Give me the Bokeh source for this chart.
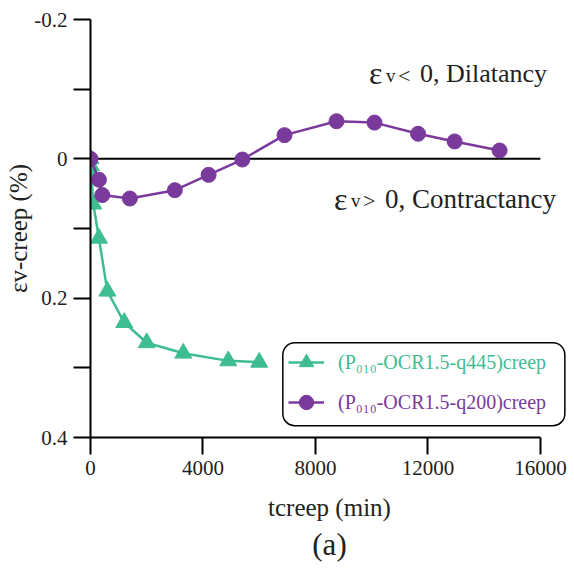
from bokeh.plotting import figure
from bokeh.models import (Range1d, FixedTicker, Legend, LegendItem, BoxAnnotation,
                          Label, Title)
from bokeh.embed import file_html
from bokeh.resources import INLINE

# ---- data ----
green_t = [0, 10, 30, 100, 300, 600, 1200, 2000, 3300, 4900, 6000]
green_v = [0.0, 0.01, 0.021, 0.065, 0.114, 0.19, 0.235, 0.264, 0.279, 0.29, 0.292]
green_label = "(P\u2080\u2081\u2080-OCR1.5-q445)creep"

purple_t = [0, 300, 420, 1400, 3000, 4200, 5400, 6900, 8750, 10100, 11650, 12950, 14550]
purple_v = [0.0, 0.03, 0.052, 0.057, 0.045, 0.023, 0.001, -0.034, -0.054, -0.052, -0.036, -0.025, -0.012]
purple_label = "(P\u2080\u2081\u2080-OCR1.5-q200)creep"

x_ticks = [0, 4000, 8000, 12000, 16000]
y_ticks = [-0.2, 0, 0.2, 0.4]
y_minor = [-0.1, 0.1, 0.3]
y_tick_labels = {-0.2: "-0.2", 0: "0", 0.2: "0.2", 0.4: "0.4"}

GREEN = "#3dbd91"
PURPLE = "#7a3a9c"
FONT = "Liberation Serif"
TXT = "#222222"

p = figure(frame_width=478, frame_height=418, output_backend="svg", toolbar_location=None,
           x_range=Range1d(0, 17000), y_range=Range1d(0.4, -0.2),
           min_border_left=90, min_border_right=0, min_border_top=19, min_border_bottom=10)
p.outline_line_color = None
p.grid.visible = False
p.background_fill_color = "white"

# zero line
p.line([x_ticks[0], x_ticks[-1]], [0, 0], line_color="black", line_width=2)

g_line = p.line(green_t, green_v, line_color=GREEN, line_width=2.5)
g_pts = p.scatter(green_t, green_v, marker="triangle", size=17, fill_color=GREEN, line_color=GREEN)
pu_line = p.line(purple_t, purple_v, line_color=PURPLE, line_width=2.5)
pu_pts = p.scatter(purple_t, purple_v, marker="circle", size=15, fill_color=PURPLE, line_color=PURPLE)

# axes
for ax in (p.xaxis[0], p.yaxis[0]):
    ax.axis_line_width = 2
    ax.axis_line_color = "black"
    ax.major_tick_line_width = 2
    ax.minor_tick_line_width = 2
    ax.major_tick_in = 0
    ax.major_tick_out = 17
    ax.minor_tick_in = 0
    ax.minor_tick_out = 17
    ax.major_label_text_font = FONT
    ax.major_label_text_font_size = "21px"
    ax.major_label_text_color = TXT
    ax.axis_label_text_font = FONT
    ax.axis_label_text_font_style = "normal"
    ax.axis_label_text_color = TXT

p.xaxis.ticker = FixedTicker(ticks=x_ticks, minor_ticks=[])
p.xaxis.bounds = (x_ticks[0], x_ticks[-1])
p.xaxis.axis_label = "tcreep (min)"
p.xaxis.axis_label_text_font_size = "25px"
p.xaxis.major_label_standoff = 6
p.xaxis.axis_label_standoff = 16

p.yaxis.ticker = FixedTicker(ticks=y_ticks, minor_ticks=y_minor)
p.yaxis.bounds = (y_ticks[0], y_ticks[-1])
p.yaxis.major_label_overrides = y_tick_labels
p.yaxis.axis_label = "\u03b5v-creep (%)"
p.yaxis.axis_label_text_font_size = "25px"
p.yaxis.major_label_standoff = 6
p.yaxis.axis_label_standoff = -1

p.add_layout(Title(text="(a)", align="center", text_font=FONT, text_font_size="31px",
                   text_font_style="normal", text_color=TXT, standoff=2), "below")

# annotations: epsilon (large), v (small), sign, then main text
def annot(x, y, sign, rest, rest_size):
    pieces = [("\u03b5", "32px", 2, 0), ("v", "19px", 19, -2), (sign, "22px", 31, -2),
              (rest, rest_size, 53, 0)]
    for txt, size, xo, yo in pieces:
        p.add_layout(Label(x=x, y=y, x_offset=xo, y_offset=yo, text=txt, text_align="left",
                           text_baseline="middle", text_font=FONT,
                           text_font_size=size, text_color=TXT))

annot(9831, -0.123, "<", "0, Dilatancy", "26px")
annot(8587, 0.057, ">", "0, Contractancy", "27px")

# legend frame
p.add_layout(BoxAnnotation(left=6840, right=16870, top=0.264, bottom=0.383,
                           fill_alpha=0, line_color="black", line_alpha=1, line_width=1.5,
                           border_radius=12, level="overlay"))

def make_legend(label, renderers, color, loc):
    lg = Legend(items=[LegendItem(label=label, renderers=renderers)], location=loc,
                border_line_color=None, background_fill_alpha=0, padding=0, margin=0,
                glyph_width=36, glyph_height=36, label_height=20, label_standoff=14,
                label_text_font=FONT, label_text_font_size="20px", label_text_color=color)
    p.add_layout(lg)

make_legend(green_label, [g_line, g_pts], GREEN, (198, 57))
make_legend(purple_label, [pu_line, pu_pts], PURPLE, (198, 17))

open("out.html", "w").write(file_html(p, INLINE))
